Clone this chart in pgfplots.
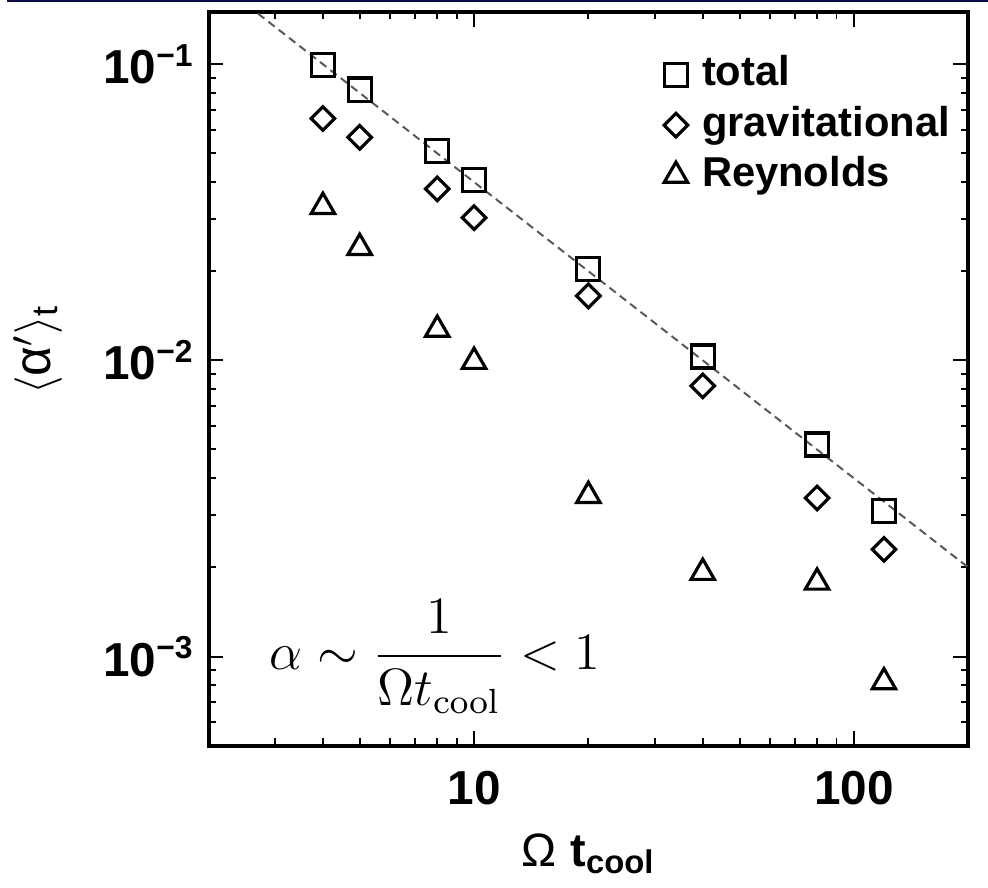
\documentclass[border=0pt]{standalone}
\usepackage[no-math]{fontspec}
\setmainfont{Liberation Sans}
\usepackage{pgfplots}
\pgfplotsset{compat=1.18}
\definecolor{navybar}{RGB}{10,12,70}
\pgfplotstableread{
x     total   grav     reyn
4     0.099   0.0655   0.033
5     0.082   0.0566   0.024
8     0.051   0.0379   0.0127
10    0.0406  0.0303   0.0099
20    0.0203  0.0165   0.00349
40    0.0103  0.0082   0.00192
80    0.0052  0.00343  0.00178
120   0.0031  0.0023   0.00082
}\datatable
\begin{document}
\begin{tikzpicture}
\begin{axis}[
  xmode=log, ymode=log,
  scale only axis,
  width=191.25pt, height=184.75pt,
  xmin=2, xmax=200, ymin=5e-4, ymax=0.15,
  clip=false,
  axis line style={line width=1pt},
  every tick/.style={line width=0.5pt, black},
  major tick length=3.75pt, minor tick length=1.9pt,
  tick align=inside,
  xticklabel={\pgfmathparse{int(round(exp(\tick)))}\pgfmathresult},
  yticklabel={\pgfmathparse{int(round(-\tick/ln(10)))}10\textsuperscript{−\pgfmathresult}},
  xticklabel style={font=\fontsize{12}{14}\selectfont\bfseries, yshift=-3pt},
  yticklabel style={font=\fontsize{12}{14}\selectfont\bfseries},
  xlabel={Ω\hspace{0.3em}\textbf{t\textsubscript{cool}}},
  ylabel={$\langle$α$'\rangle$\textsubscript{t}},
  every axis x label/.style={at={(rel axis cs:0.5,0)}, yshift=-27.25pt, anchor=center, font=\fontsize{11.8}{14}\selectfont},
  every axis y label/.style={at={(rel axis cs:0,0.54)}, xshift=-43pt, rotate=90, anchor=center, font=\fontsize{13}{15}\selectfont},
  legend cell align=left,
  legend style={draw=none, fill=none, at={(rel axis cs:0.583,0.958)}, anchor=north west,
    font=\fontsize{10.5}{12.5}\selectfont\bfseries,
    nodes={inner sep=0.6pt, text height=8pt, text depth=2.5pt},
    row sep=1pt,
    /tikz/every odd column/.append style={column sep=3pt}},
  legend image code/.code={\draw[#1] plot coordinates {(0cm,0cm)};},
]
\addplot[gray!70!black, dash pattern=on 2pt off 1.3pt, line width=0.5pt, forget plot] coordinates {(2.7,0.148) (200,0.002)};
\addplot[only marks, mark=square, mark size=2.9pt, line width=0.8pt, black] table[x=x, y=total] {\datatable};
\addlegendentry{total}
\addplot[only marks, mark=square, mark size=2.1pt, mark options={rotate=45}, line width=0.8pt, black] table[x=x, y=grav] {\datatable};
\addlegendentry{gravitational}
\addplot[only marks, mark=triangle, mark size=3.4pt, line width=0.8pt, black] table[x=x, y=reyn] {\datatable};
\addlegendentry{Reynolds}
\node[anchor=west, inner sep=0pt, scale=1.1] at (axis cs:2.88,1.0e-3) {\fontsize{12}{14}\selectfont $\displaystyle \alpha\sim\frac{1}{\Omega t_{\mathrm{cool}}}<1$};
\path (rel axis cs:-0.2654,-0.184) rectangle (rel axis cs:1.0261,1.0162);
\fill[navybar] (rel axis cs:-0.2654,1.0162) rectangle ([yshift=-0.6pt]rel axis cs:1.0261,1.0162);
\end{axis}
\end{tikzpicture}
\end{document}
